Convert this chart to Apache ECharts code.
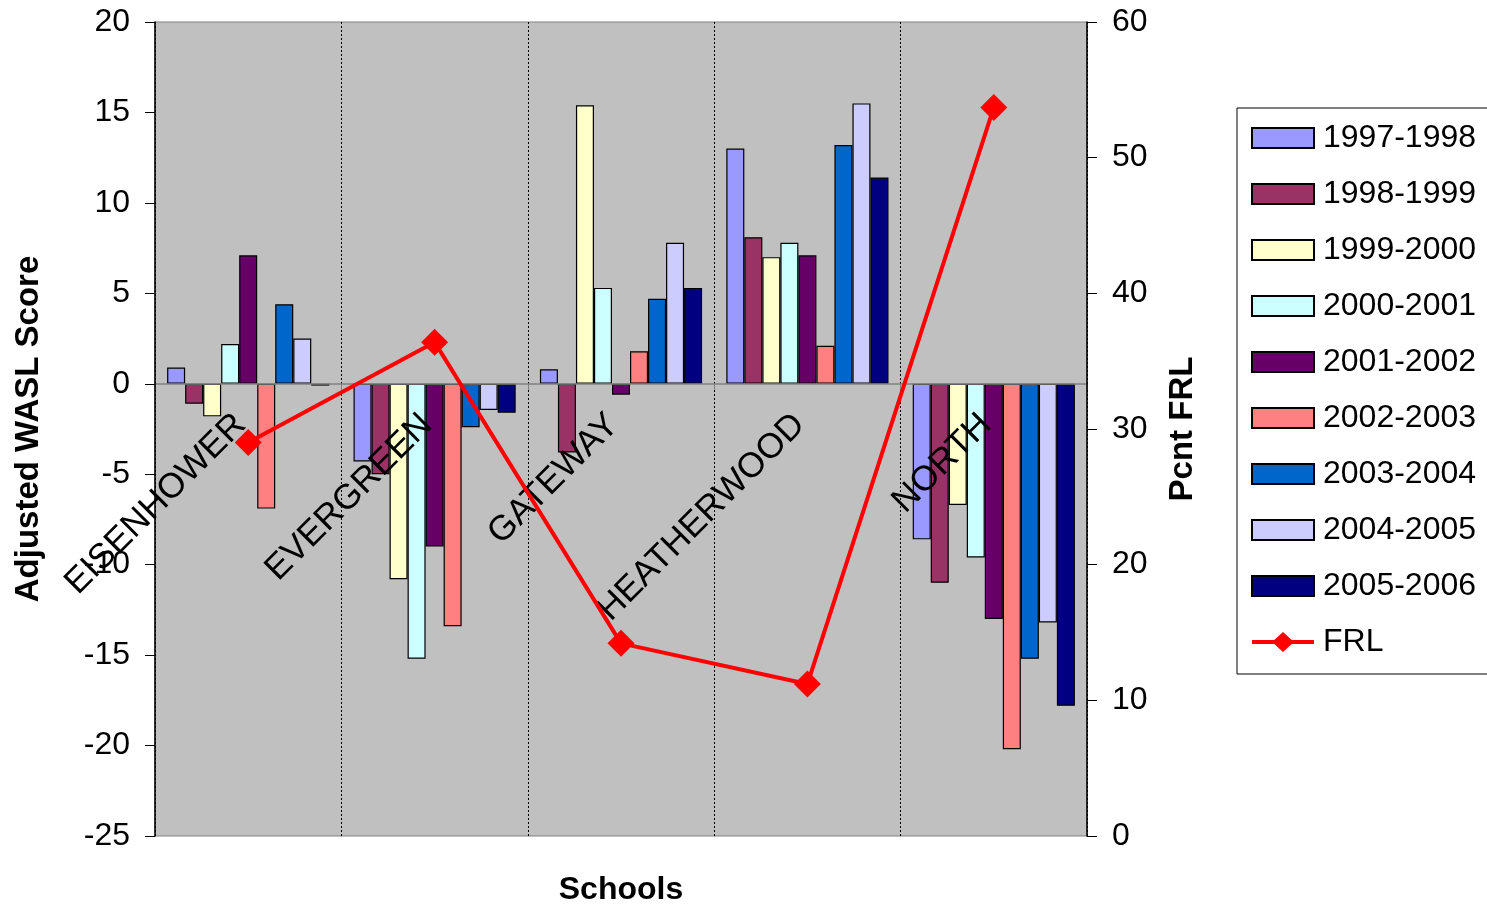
<!DOCTYPE html>
<html>
<head>
<meta charset="utf-8">
<script src="https://cdn.jsdelivr.net/npm/echarts@6/dist/echarts.min.js"></script>
<style>html,body{margin:0;padding:0;background:#fff}#c{width:1487px;height:906px}</style>
</head>
<body>
<div id="c"></div>
<script>
const schools = ['EISENHOWER', 'EVERGREEN', 'GATEWAY', 'HEATHERWOOD', 'NORTH'];
const years = ['1997-1998', '1998-1999', '1999-2000', '2000-2001', '2001-2002', '2002-2003', '2003-2004', '2004-2005', '2005-2006'];
const y1997 = [0.9, -4.3, 0.8, 13.0, -8.6];
const y1998 = [-1.1, -5.0, -3.8, 8.1, -11.0];
const y1999 = [-1.8, -10.8, 15.4, 7.0, -6.7];
const y2000 = [2.2, -15.2, 5.3, 7.8, -9.6];
const y2001 = [7.1, -9.0, -0.6, 7.1, -13.0];
const y2002 = [-6.9, -13.4, 1.8, 2.1, -20.2];
const y2003 = [4.4, -2.4, 4.7, 13.2, -15.2];
const y2004 = [2.5, -1.45, 7.8, 15.5, -13.2];
const y2005 = [-0.1, -1.6, 5.3, 11.4, -17.8];
const frl = [29.0, 36.4, 14.2, 11.2, 53.7];
const leftTicks = { min: -25, max: 20, interval: 5 };
const rightTicks = { min: 0, max: 60, interval: 10 };

const barData = [y1997, y1998, y1999, y2000, y2001, y2002, y2003, y2004, y2005];
const colors = ['#9999FF', '#993366', '#FFFFCC', '#CCFFFF', '#660066', '#FF8080', '#0066CC', '#CCCCFF', '#000080'];
const FONT = 'Liberation Sans, Arial, sans-serif';

// layout
const GRID = { left: 155, right: 400, top: 22, bottom: 70 };
const plotH = 906 - GRID.top - GRID.bottom;
const zeroOffset = -plotH * (0 - leftTicks.min) / (leftTicks.max - leftTicks.min);

const series = years.map((y, i) => ({
  name: y,
  type: 'bar',
  yAxisIndex: 0,
  data: barData[i],
  barGap: '0%',
  barCategoryGap: '13%',
  itemStyle: { color: colors[i], borderColor: '#000', borderWidth: 1.2 },
  z: 2
}));
series.push({
  name: 'FRL',
  type: 'line',
  yAxisIndex: 1,
  data: frl,
  symbol: 'diamond',
  symbolSize: 27,
  lineStyle: { color: '#FF0000', width: 4 },
  itemStyle: { color: '#FF0000' },
  z: 20
});

const frlIcon = 'path://M0,8 L62,8 L62,12 L0,12 Z M20,10 L31,0 L42,10 L31,20 Z';

const chart = echarts.init(document.getElementById('c'), null, { renderer: 'canvas' });
chart.setOption({
  animation: false,
  textStyle: { fontFamily: FONT },
  grid: Object.assign({}, GRID, {
    containLabel: false, outerBoundsMode: 'none',
    show: true, backgroundColor: '#C0C0C0', borderColor: '#808080', borderWidth: 1
  }),
  legend: {
    orient: 'vertical',
    left: 1237, top: 108,
    padding: [14, 20, 16, 14],
    itemWidth: 62, itemHeight: 20, itemGap: 24,
    borderColor: '#000', borderWidth: 1,
    textStyle: { fontSize: 32, lineHeight: 32, color: '#000', fontFamily: FONT, padding: [0, 0, 0, 4] },
    data: years.map(y => ({ name: y, icon: 'rect' })).concat([{ name: 'FRL', icon: frlIcon, itemStyle: { color: '#FF0000', borderWidth: 0 } }])
  },
  xAxis: {
    type: 'category',
    data: schools,
    z: 10,
    position: 'bottom',
    offset: zeroOffset,
    name: 'Schools',
    nameLocation: 'middle',
    nameGap: 490,
    nameTextStyle: { fontSize: 32, fontWeight: 'bold', color: '#000', fontFamily: FONT },
    axisLine: { onZero: false, lineStyle: { color: '#808080', width: 1.5 } },
    axisTick: { show: true, length: 6, lineStyle: { color: '#808080' } },
    axisLabel: { rotate: 45, margin: 28, padding: [0, 11, 0, 0], fontSize: 35, color: '#000', fontFamily: FONT, interval: 0 },
    splitLine: { show: true, lineStyle: { color: '#000', type: [2, 2], width: 1 } }
  },
  yAxis: [
    {
      type: 'value', position: 'left', z: 11,
      min: leftTicks.min, max: leftTicks.max, interval: leftTicks.interval,
      name: 'Adjusted WASL Score',
      nameLocation: 'middle', nameRotate: 90, nameGap: 110,
      nameTextStyle: { fontSize: 33, fontWeight: 'bold', color: '#000', fontFamily: FONT },
      axisLine: { show: true, onZero: false, lineStyle: { color: '#000', width: 1.5 } },
      axisTick: { show: true, length: 10, lineStyle: { color: '#000' } },
      axisLabel: { fontSize: 32, color: '#000', margin: 25, fontFamily: FONT },
      splitLine: { show: false }
    },
    {
      type: 'value', position: 'right', z: 11,
      min: rightTicks.min, max: rightTicks.max, interval: rightTicks.interval,
      name: 'Pcnt FRL',
      nameLocation: 'middle', nameRotate: 90, nameGap: 79,
      nameTextStyle: { fontSize: 33, fontWeight: 'bold', color: '#000', fontFamily: FONT },
      axisLine: { show: true, onZero: false, lineStyle: { color: '#000', width: 1.5 } },
      axisTick: { show: true, length: 10, lineStyle: { color: '#000' } },
      axisLabel: { fontSize: 32, color: '#000', margin: 25, fontFamily: FONT },
      splitLine: { show: false }
    }
  ],
  series: series
});
</script>
</body>
</html>
